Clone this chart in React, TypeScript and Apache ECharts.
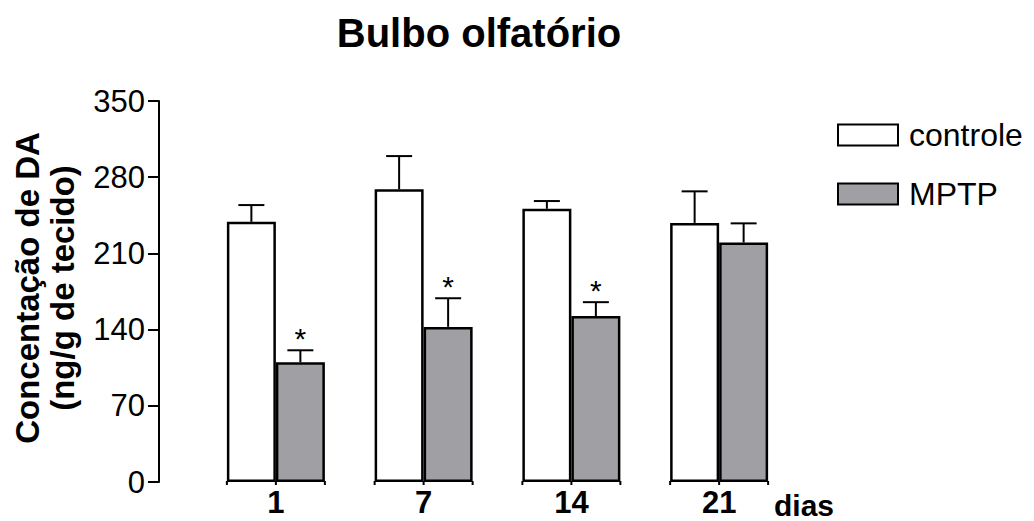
import React, { useEffect, useRef } from "react";
import * as echarts from "echarts";

const FONT = "'Liberation Sans', Arial, Helvetica, sans-serif";

const categories = ["1", "7", "14", "21"];
const controle = [239, 269, 251, 238];
const controleSEM = [15.4, 30.4, 7.1, 29];
const mptp = [110, 142.5, 152.4, 220];
const mptpSEM = [11, 26.3, 12.8, 17.6];
const significant = [true, true, true, false];
const yTicks = [0, 70, 140, 210, 280, 350];

const BAR_W = 49;

export default function App() {
  const ref = useRef<HTMLDivElement>(null);

  useEffect(() => {
    if (!ref.current) return;
    const chart = echarts.init(ref.current, undefined, { renderer: "svg" });

    const errData: any[] = [];
    categories.forEach((_, i) => {
      errData.push([i, controle[i], controleSEM[i], -1, 0]);
      errData.push([i, mptp[i], mptpSEM[i], 1, significant[i] ? 1 : 0]);
    });

    const option: any = {
      animation: false,
      textStyle: { fontFamily: FONT },
      grid: { left: 202, right: 241, top: 101, bottom: 39 },
      legend: {
        left: 837,
        top: 119,
        padding: 0,
        orient: "vertical",
        itemWidth: 60,
        itemHeight: 21,
        itemGap: 27,
        icon: "rect",
        textStyle: {
          fontSize: 32,
          color: "#000",
          fontFamily: FONT,
          lineHeight: 21,
          padding: [0, 0, 0, 6],
        },
        data: ["controle", "MPTP"],
      },
      xAxis: {
        type: "category",
        data: categories,
        axisLine: { show: false },
        axisTick: { show: false },
        axisLabel: {
          fontSize: 31,
          fontWeight: "bold",
          color: "#000",
          margin: 5,
          fontFamily: FONT,
        },
      },
      yAxis: {
        type: "value",
        min: yTicks[0],
        max: yTicks[yTicks.length - 1],
        interval: 70,
        offset: 43,
        axisLine: { show: true, lineStyle: { color: "#000", width: 2 } },
        axisTick: { show: true, length: 11, lineStyle: { color: "#000", width: 2 } },
        axisLabel: { fontSize: 31, color: "#000", margin: 14, fontFamily: FONT },
        splitLine: { show: false },
      },
      series: [
        {
          name: "controle",
          type: "bar",
          data: controle,
          barWidth: BAR_W,
          barGap: "0%",
          itemStyle: { color: "#ffffff", borderColor: "#000", borderWidth: 2.5 },
        },
        {
          name: "MPTP",
          type: "bar",
          data: mptp,
          barWidth: BAR_W,
          barGap: "0%",
          itemStyle: { color: "#a09fa4", borderColor: "#000", borderWidth: 2.5 },
        },
        {
          type: "custom",
          coordinateSystem: "cartesian2d",
          data: errData,
          encode: { x: 0, y: 1 },
          z: 5,
          renderItem: (params: any, api: any) => {
            const idx = api.value(0);
            const val = api.value(1);
            const err = api.value(2);
            const side = api.value(3);
            const sig = api.value(4);
            const base = api.coord([idx, val]);
            const top = api.coord([idx, val + err]);
            const x = base[0] + (side * BAR_W) / 2;
            const children: any[] = [
              {
                type: "line",
                shape: { x1: x, y1: base[1], x2: x, y2: top[1] },
                style: { stroke: "#000", lineWidth: 2 },
              },
              {
                type: "line",
                shape: { x1: x - 13, y1: top[1], x2: x + 13, y2: top[1] },
                style: { stroke: "#000", lineWidth: 2 },
              },
            ];
            if (sig) {
              children.push({
                type: "text",
                style: {
                  text: "*",
                  x: x,
                  y: top[1] - 12,
                  align: "center",
                  verticalAlign: "middle",
                  fontSize: 30,
                  fontFamily: FONT,
                  fill: "#000",
                },
              });
            }
            return { type: "group", children };
          },
        },
        {
          type: "custom",
          coordinateSystem: "cartesian2d",
          data: categories.map((_, i) => [i, 0]),
          encode: { x: 0, y: 1 },
          z: 5,
          renderItem: (params: any, api: any) => {
            const p = api.coord([api.value(0), 0]);
            const xs = [p[0] - BAR_W, p[0], p[0] + BAR_W];
            return {
              type: "group",
              children: xs.map((x) => ({
                type: "line",
                shape: { x1: x, y1: p[1] - 1, x2: x, y2: p[1] + 3 },
                style: { stroke: "#000", lineWidth: 2 },
              })),
            };
          },
        },
      ],
      graphic: [
        {
          type: "text",
          x: 479,
          y: 33,
          style: {
            text: "Bulbo olfatório",
            fontSize: 40,
            fontWeight: "bold",
            fontFamily: FONT,
            fill: "#000",
            align: "center",
            verticalAlign: "middle",
          },
        },
        {
          type: "text",
          x: 45,
          y: 288,
          rotation: Math.PI / 2,
          style: {
            text: "Concentação de DA\n(ng/g de tecido)",
            fontSize: 33,
            fontWeight: "bold",
            lineHeight: 35,
            fontFamily: FONT,
            fill: "#000",
            align: "center",
            verticalAlign: "middle",
          },
        },
        {
          type: "text",
          x: 774,
          y: 505,
          style: {
            text: "dias",
            fontSize: 30,
            fontWeight: "bold",
            fontFamily: FONT,
            fill: "#000",
            align: "left",
            verticalAlign: "middle",
          },
        },
      ],
    };

    chart.setOption(option);
    return () => chart.dispose();
  }, []);

  return (
    <div
      ref={ref}
      style={{ position: "absolute", left: 0, top: 0, width: 1034, height: 521 }}
    />
  );
}
